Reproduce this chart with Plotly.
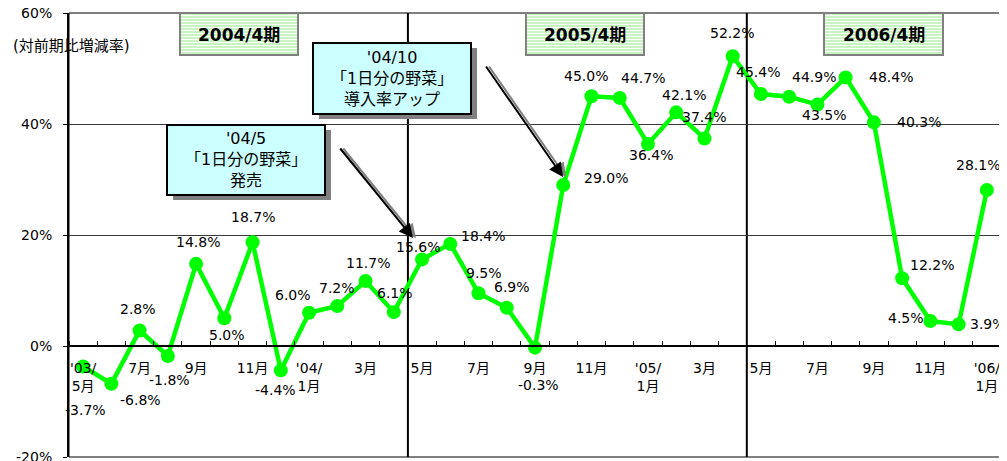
import plotly.graph_objects as go

# ---------------- data ----------------
months = ["2003/05", "2003/06", "2003/07", "2003/08", "2003/09", "2003/10", "2003/11", "2003/12",
          "2004/01", "2004/02", "2004/03", "2004/04", "2004/05", "2004/06", "2004/07", "2004/08",
          "2004/09", "2004/10", "2004/11", "2004/12", "2005/01", "2005/02", "2005/03", "2005/04",
          "2005/05", "2005/06", "2005/07", "2005/08", "2005/09", "2005/10", "2005/11", "2005/12",
          "2006/01"]
growth = [-3.7, -6.8, 2.8, -1.8, 14.8, 5.0, 18.7, -4.4,
          6.0, 7.2, 11.7, 6.1, 15.6, 18.4, 9.5, 6.9,
          -0.3, 29.0, 45.0, 44.7, 36.4, 42.1, 37.4, 52.2,
          45.4, 44.9, 43.5, 48.4, 40.3, 12.2, 4.5, 3.9,
          28.1]
tick_months = ["2003/05", "2003/07", "2003/09", "2003/11", "2004/01", "2004/03", "2004/05", "2004/07",
               "2004/09", "2004/11", "2005/01", "2005/03", "2005/05", "2005/07", "2005/09", "2005/11",
               "2006/01"]
tick_text = ["'03/<br>5月", "7月", "9月", "11月", "'04/<br>1月", "3月", "5月", "7月",
             "9月", "11月", "'05/<br>1月", "3月", "5月", "7月", "9月", "11月", "'06/<br>1月"]
y_ticks = [-20, 0, 20, 40, 60]
y_title = "(対前期比増減率)"
period_labels = ["2004/4期", "2005/4期", "2006/4期"]
period_starts = ["2004/05", "2005/05"]
callout_texts = ["'04/5<br>「1日分の野菜」<br>発売", "'04/10<br>「1日分の野菜」<br>導入率アップ"]

# ---------------- styling / layout helpers ----------------
BODY = 8                     # default page margin around the figure
W, H = 1007 - BODY, 461 - BODY
PL, PR, PT, PB = 69, 1001, 13, 457   # plot area in page pixels
NUM_FONT = "DejaVu Sans, Noto Sans CJK JP, sans-serif"
JP_FONT = "DejaVu Sans, Noto Sans CJK JP, sans-serif"


def px(x):
    return (x - PL) / (PR - PL)


def py(y):
    return (PB - y) / (PB - PT)


# data-label offsets (pixels, dy positive = downward)
label_dx = [2, 29, -2, 2, 2, 3, 0, -5, -16, 0, 2, 1, -4, 33, 5, 5, 3, 43, -5, 23, 3, 8, 0, -1,
            -3, 25, 7, 45, 45, 30, -24, 29, -9]
label_dy = [43, 16, -21, 24, -22, 17, -25, 20, -18, -18, -18, -19, -12, -8, -20, -21, 37, -7, -20,
            -20, 11, -17, -21, -23, -22, -20, 10, 0, 0, -13, -3, 0, -25]

pos = [i + 1 for i in range(len(months))]
tick_pos = [months.index(m) + 1 for m in tick_months]

fig = go.Figure()
fig.add_trace(go.Scatter(
    x=pos, y=growth, mode="lines+markers",
    line=dict(color="#00ff00", width=4.5),
    marker=dict(size=14, color="#00ff00"),
    cliponaxis=False, hoverinfo="x+y",
))

shapes = []
annotations = []

# vertical period separators
for m in period_starts:
    xs = months.index(m) + 1 - 0.5
    shapes.append(dict(type="line", xref="x", yref="paper", x0=xs, x1=xs, y0=0, y1=1,
                       line=dict(color="black", width=2), layer="below"))

# plot border
shapes.append(dict(type="rect", xref="paper", yref="paper", x0=0, x1=1, y0=0, y1=1,
                   line=dict(color="black", width=1), layer="above"))

# period boxes with horizontal stripes
period_boxes = [(180, 298), (526, 644), (824, 943)]
for (x0, x1), lab in zip(period_boxes, period_labels):
    y0, y1 = 13, 55
    shapes.append(dict(type="rect", xref="paper", yref="paper", x0=px(x0), x1=px(x1),
                       y0=py(y1), y1=py(y0), fillcolor="#c9f3c3", line=dict(width=0), layer="above"))
    yy = y0 + 2.5
    while yy < y1 - 1:
        shapes.append(dict(type="line", xref="paper", yref="paper", x0=px(x0 + 1), x1=px(x1 - 1),
                           y0=py(yy), y1=py(yy), line=dict(color="white", width=1), layer="above"))
        yy += 3
    shapes.append(dict(type="rect", xref="paper", yref="paper", x0=px(x0), x1=px(x1),
                       y0=py(y1), y1=py(y0), line=dict(color="#808080", width=2), layer="above"))
    annotations.append(dict(xref="paper", yref="paper", x=px((x0 + x1) / 2), y=py(34.5),
                            xanchor="center", yanchor="middle",
                            text="<b>%s</b>" % lab, showarrow=False,
                            font=dict(family=NUM_FONT, size=17, color="black")))

# callout boxes with shadow
callout_boxes = [(167, 325, 125, 195), (313, 471, 43, 114)]
for (x0, x1, y0, y1), txt in zip(callout_boxes, callout_texts):
    shapes.append(dict(type="rect", xref="paper", yref="paper", x0=px(x0 + 6), x1=px(x1 + 6),
                       y0=py(y1 + 5), y1=py(y0 + 5), fillcolor="#808080", line=dict(width=0),
                       layer="above"))
    shapes.append(dict(type="rect", xref="paper", yref="paper", x0=px(x0), x1=px(x1),
                       y0=py(y1), y1=py(y0), fillcolor="#ccffff",
                       line=dict(color="black", width=2), layer="above"))
    annotations.append(dict(xref="paper", yref="paper", x=px((x0 + x1) / 2), y=py((y0 + y1) / 2),
                            xanchor="center", yanchor="middle",
                            text=txt, showarrow=False, align="center",
                            font=dict(family=JP_FONT, size=16, color="black")))

# arrows (tail -> head, page pixels)
arrows = [((339, 147), (413, 238)), ((485, 65), (563, 177))]
for (tx, ty), (hx, hy) in arrows:
    for col, sh in (("#808080", 3), ("black", 0)):
        annotations.append(dict(xref="paper", yref="paper", x=px(hx), y=py(hy), text="",
                                showarrow=True, axref="pixel", ayref="pixel",
                                ax=tx - hx, ay=ty - hy, xshift=sh,
                                arrowcolor=col, arrowwidth=2, arrowhead=2, arrowsize=1.4,
                                standoff=0))

# data labels
for p, v, dx, dy in zip(pos, growth, label_dx, label_dy):
    annotations.append(dict(xref="x", yref="y", x=p, y=v, text="%.1f%%" % v, showarrow=False,
                            xanchor="center", yanchor="middle",
                            xshift=dx, yshift=-dy,
                            font=dict(family=NUM_FONT, size=14, color="black")))

# y-axis title
annotations.append(dict(xref="paper", yref="paper", x=px(71), y=py(46), text=y_title,
                        showarrow=False, xanchor="center", yanchor="middle",
                        font=dict(family=JP_FONT, size=15, color="black")))

fig.update_layout(
    width=W, height=H,
    margin=dict(l=PL - BODY, r=1007 - PR, t=PT - BODY, b=461 - PB, autoexpand=False),
    paper_bgcolor="white", plot_bgcolor="white",
    showlegend=False,
    shapes=shapes, annotations=annotations,
    xaxis=dict(range=[0.5, len(months) + 0.5], anchor="free", position=0.25,
               showline=True, linecolor="black", linewidth=2,
               tickmode="array", tickvals=tick_pos, ticktext=tick_text, ticks="",
               ticklabelstandoff=9, ticklabeloverflow="allow",
               minor=dict(ticks="inside", ticklen=4, tickcolor="black", tick0=0.5, dtick=1,
                          showgrid=False),
               showgrid=False, zeroline=False, automargin=False,
               tickfont=dict(family=NUM_FONT, size=14, color="black")),
    yaxis=dict(range=[-20, 60], tickmode="array", tickvals=y_ticks,
               ticktext=["%d%%" % t for t in y_ticks],
               showline=True, linecolor="black", linewidth=2,
               ticks="outside", ticklen=4, tickcolor="black", ticklabelstandoff=8,
               ticklabeloverflow="allow",
               showgrid=True, gridcolor="#3a3a3a", gridwidth=1, zeroline=False,
               automargin=False,
               tickfont=dict(family=NUM_FONT, size=14, color="black")),
)

fig.write_html("out.html")
